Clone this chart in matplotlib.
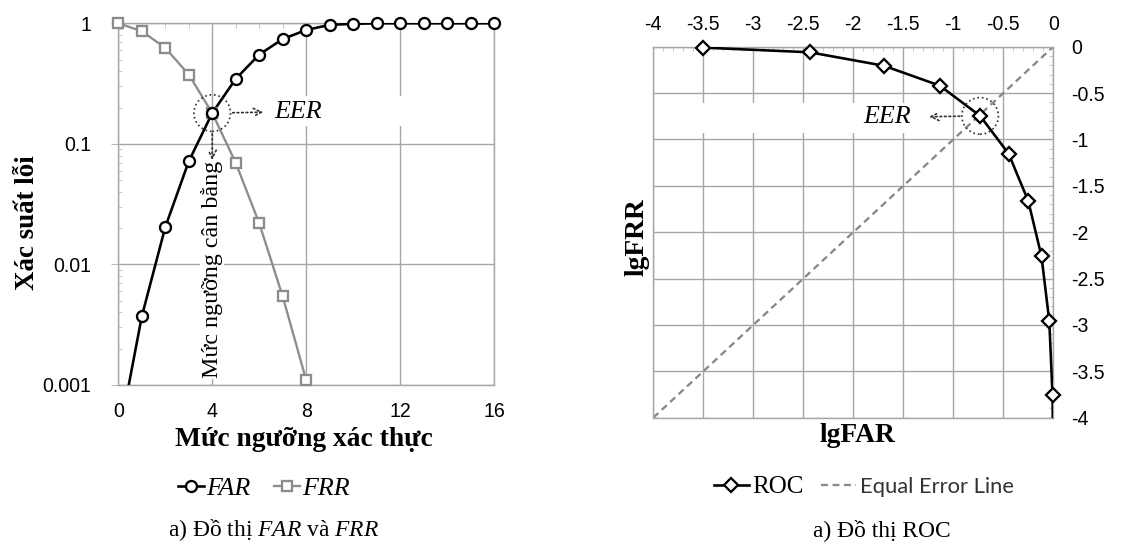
import matplotlib
matplotlib.use('Agg')
import matplotlib.pyplot as plt
from matplotlib.patches import Circle, Rectangle
from matplotlib.offsetbox import DrawingArea, AnnotationBbox
from matplotlib.lines import Line2D
from matplotlib.ticker import MultipleLocator, FixedLocator, NullFormatter, FuncFormatter

plt.rcParams['axes.unicode_minus'] = False
plt.rcParams['mathtext.fontset'] = 'custom'
plt.rcParams['mathtext.rm'] = 'Liberation Serif'
plt.rcParams['mathtext.it'] = 'Liberation Serif:italic'

# FAR / FRR against threshold level
threshold = [0, 1, 2, 3, 4, 5, 6, 7, 8, 9, 10, 11, 12, 13, 14, 15, 16]
far = [0.00035, 0.0037, 0.0204, 0.0715, 0.18, 0.346, 0.55, 0.74, 0.88,
       0.97, 0.99, 1.0, 1.0, 1.0, 1.0, 1.0, 1.0]
frr_threshold = [0, 1, 2, 3, 4, 5, 6, 7, 8]
frr = [1.0, 0.86, 0.625, 0.376, 0.18, 0.0697, 0.022, 0.00544, 0.0011]
eer_threshold = 4
eer_rate = 0.18
yticks_left = [0.001, 0.01, 0.1, 1]
yticklabels_left = ['0.001', '0.01', '0.1', '1']

# ROC in log scale
lg_far = [-3.5, -2.437, -1.695, -1.135, -0.732, -0.447, -0.25, -0.118, -0.04, -0.008, -0.002]
lg_frr = [-0.01, -0.06, -0.205, -0.42, -0.746, -1.153, -1.665, -2.26, -2.96, -3.75, -4.3]
eer_lg = (-0.732, -0.746)
equal_line = [-4, 0]

GRID = '#a6a6a6'
FRR_C = '#8c8c8c'
ANN = '#333333'
SERIF = 'Liberation Serif'
SANS = 'Liberation Sans'

W, H = 1122, 545
fig = plt.figure(figsize=(W / 72, H / 72), dpi=72)


def px_axes(x0, y0, x1, y1):
    return fig.add_axes([x0 / W, 1 - y1 / H, (x1 - x0) / W, (y1 - y0) / H])


def dotted_circle(ax, xy, r=18.3):
    da = DrawingArea(2 * r + 4, 2 * r + 4, 0, 0)
    da.add_artist(Circle((r + 2, r + 2), r, fc='none', ec=ANN, ls=':', lw=1.7))
    ab = AnnotationBbox(da, xy, frameon=False, pad=0, box_alignment=(0.5, 0.5), zorder=6)
    ax.add_artist(ab)


arrow_kw = dict(arrowstyle='<-', ls=':', lw=1.7, color=ANN, mutation_scale=20)

# ---------------- a) FAR and FRR ----------------
ax1 = px_axes(118.3, 23.3, 494, 385)
ax1.set_yscale('log')
ax1.set_xlim(0, 16)
ax1.set_ylim(0.001, 1)
ax1.set_xticks([0, 4, 8, 12, 16])
ax1.yaxis.set_major_locator(FixedLocator(yticks_left))
ax1.set_yticklabels(yticklabels_left)
ax1.yaxis.set_minor_formatter(NullFormatter())
ax1.xaxis.set_minor_locator(MultipleLocator(1))
ax1.grid(True, which='major', color=GRID, lw=1.4, zorder=0)
ax1.set_axisbelow(True)
for s in ax1.spines.values():
    s.set_color(GRID)
    s.set_linewidth(1.4)
ax1.tick_params(axis='y', which='major', direction='out', length=7, color=GRID,
                labelsize=19.5, pad=20)
ax1.tick_params(axis='y', which='minor', direction='in', length=4, color=GRID)
ax1.tick_params(axis='x', which='major', length=0, labelsize=19.5, pad=17)
ax1.tick_params(axis='x', which='minor', direction='in', length=5, color=GRID,
                top=True, bottom=False)
for lab in ax1.get_xticklabels() + ax1.get_yticklabels():
    lab.set_fontfamily(SANS)

ax1.add_patch(Rectangle((6.1, 0.142), 7.2, 0.108, fc='white', ec='none', zorder=1))

ax1.plot(threshold, far, color='black', lw=2.6, zorder=3)
ax1.plot(threshold, far, ls='none', marker='o', ms=11, mfc='white', mec='black',
         mew=2.3, markevery=slice(1, None), clip_on=False, zorder=4)
ax1.plot(frr_threshold, frr, color=FRR_C, lw=2.3, marker='s', ms=10.5, mfc='white',
         mec=FRR_C, mew=2.3, clip_on=False, zorder=3)

dotted_circle(ax1, (eer_threshold, eer_rate))
ax1.annotate('EER', xy=(eer_threshold, eer_rate), xytext=(62, 1.5), textcoords='offset points',
             ha='left', va='center', fontsize=26, fontstyle='italic', fontfamily=SERIF,
             zorder=6, arrowprops=dict(shrinkA=9, shrinkB=18.3, **arrow_kw))
ax1.annotate('', xy=(eer_threshold, eer_rate), xytext=(0, -47), textcoords='offset points',
             arrowprops=dict(shrinkA=0, shrinkB=18.3, **arrow_kw), zorder=6)
ax1.text(eer_threshold, 0.00115, 'Mức ngưỡng cân bằng', rotation=90, ha='center', va='bottom',
         fontsize=24, fontfamily=SERIF, zorder=5,
         bbox=dict(boxstyle='square,pad=0.05', fc='white', ec='none'))

fig.text(27 / W, 1 - 223 / H, 'Xác suất lỗi', rotation=90, ha='center', va='center',
         fontsize=27, fontweight='bold', fontfamily=SERIF)
fig.text(304 / W, 1 - 440 / H, 'Mức ngưỡng xác thực', ha='center', va='center',
         fontsize=27.5, fontweight='bold', fontfamily=SERIF)

h_far = Line2D([], [], color='black', lw=2.6, marker='o', ms=11, mfc='white', mew=2.3)
h_frr = Line2D([], [], color=FRR_C, lw=2.3, marker='s', ms=10.5, mfc='white', mec=FRR_C, mew=2.3)
fig.legend([h_far, h_frr], ['FAR', 'FRR'], loc='center', bbox_to_anchor=(264 / W, 1 - 488 / H),
           ncol=2, frameon=False, handlelength=1.0, handletextpad=0.1, columnspacing=0.9,
           prop=dict(family=SERIF, style='italic', size=26))
fig.text(274 / W, 1 - 530 / H, r'a) Đồ thị $\mathit{FAR}$ và $\mathit{FRR}$', ha='center',
         va='center', fontsize=23.5, fontfamily=SERIF)

# ---------------- a) ROC ----------------
ax2 = px_axes(653.3, 46.7, 1053.3, 417.7)
ax2.set_xlim(-4, 0)
ax2.set_ylim(-4, 0)
ax2.xaxis.set_major_locator(MultipleLocator(0.5))
ax2.yaxis.set_major_locator(MultipleLocator(0.5))
ax2.xaxis.set_minor_locator(MultipleLocator(0.1))
ax2.yaxis.set_minor_locator(MultipleLocator(0.1))
fmt = FuncFormatter(lambda v, pos: f'{v + 0.0:g}')
ax2.xaxis.set_major_formatter(fmt)
ax2.yaxis.set_major_formatter(fmt)
ax2.xaxis.tick_top()
ax2.yaxis.tick_right()
ax2.grid(True, which='major', color=GRID, lw=1.4, zorder=0)
ax2.set_axisbelow(True)
for s in ax2.spines.values():
    s.set_color(GRID)
    s.set_linewidth(1.4)
ax2.tick_params(which='major', direction='in', length=6, color=GRID, labelsize=19.5)
ax2.tick_params(axis='x', which='major', pad=13)
ax2.tick_params(axis='y', which='major', pad=18)
ax2.tick_params(which='minor', direction='in', length=4, color=GRID)
for lab in ax2.get_xticklabels() + ax2.get_yticklabels():
    lab.set_fontfamily(SANS)

ax2.add_patch(Rectangle((-3.685, -0.934), 2.26, 0.327, fc='white', ec='none', zorder=1))

ax2.plot(equal_line, equal_line, color='#888888', lw=2.3, ls=(0, (3, 2)), zorder=2)
ax2.plot(lg_far, lg_frr, color='black', lw=2.6, zorder=3)
ax2.plot(lg_far, lg_frr, ls='none', marker='D', ms=9.5, mfc='white', mec='black', mew=2.3,
         markevery=slice(0, -1), clip_on=False, zorder=4)

dotted_circle(ax2, eer_lg)
ax2.annotate('EER', xy=eer_lg, xytext=(-69, -1.5), textcoords='offset points',
             ha='right', va='center', fontsize=26, fontstyle='italic', fontfamily=SERIF,
             zorder=6, arrowprops=dict(shrinkA=16, shrinkB=18.3, **arrow_kw))

fig.text(637 / W, 1 - 237 / H, 'lgFRR', rotation=90, ha='center', va='center',
         fontsize=27.5, fontweight='bold', fontfamily=SERIF)
fig.text(857 / W, 1 - 435 / H, 'lgFAR', ha='center', va='center',
         fontsize=27.5, fontweight='bold', fontfamily=SERIF)

h_roc = Line2D([], [], color='black', lw=2.6, marker='D', ms=9.5, mfc='white', mew=2.3)
h_eq = Line2D([], [], color='#888888', lw=2.3, ls=(0, (3, 2)))
leg = fig.legend([h_roc, h_eq], ['ROC', 'Equal Error Line'], loc='center',
                 bbox_to_anchor=(864 / W, 1 - 487 / H), ncol=2, frameon=False,
                 handlelength=1.4, handletextpad=0.15, columnspacing=0.7,
                 prop=dict(family=SERIF, size=25))
leg.get_texts()[1].set_fontfamily('Lato')
leg.get_texts()[1].set_fontsize(22)
leg.get_texts()[1].set_color(ANN)
fig.text(882 / W, 1 - 530 / H, 'a) Đồ thị ROC', ha='center', va='center',
         fontsize=23.5, fontfamily=SERIF)

fig.savefig('out.png', dpi=72, facecolor='white')
